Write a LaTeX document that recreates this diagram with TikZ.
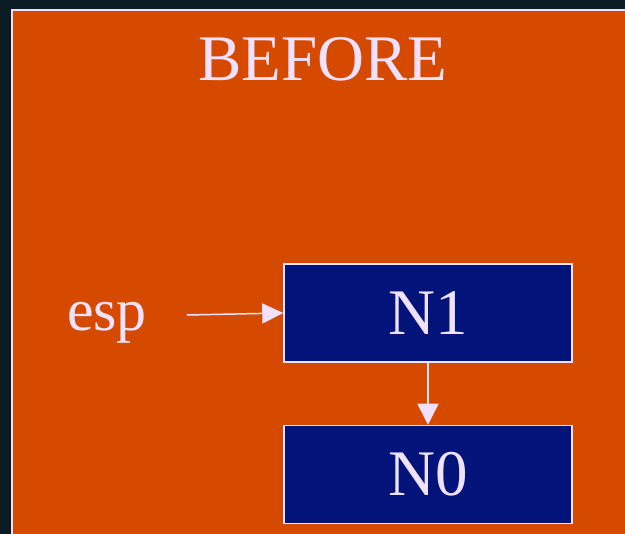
\documentclass[tikz,border=0pt]{standalone}
\usepackage{fontspec}
\setmainfont{Liberation Serif}
\usepackage{tikz}
\usetikzlibrary{positioning,arrows.meta}

\definecolor{slidebg}{HTML}{0B1B24}
\definecolor{panelorange}{HTML}{D64A00}
\definecolor{boxnavy}{HTML}{02137A}
\definecolor{chalk}{HTML}{F0E2FF}

\begin{document}
\begin{tikzpicture}[x=1pt, y=-1pt, node distance=62pt,
    every node/.style={font=\fontsize{65}{72}\selectfont, text=chalk},
    stackbox/.style={draw=chalk, line width=1.5pt, fill=boxnavy, minimum width=288pt, minimum height=98pt, inner sep=0pt},
    link/.style={draw=chalk, line width=1.5pt}]
  % slide background and panel
  \fill[slidebg] (0,0) rectangle (625,534);
  \useasboundingbox (0,0) rectangle (625,534);
  \fill[panelorange, draw=chalk, line width=2pt] (12,10) rectangle (640,550);
  \node[anchor=base] (title) at (323,81) {BEFORE};
  \node[stackbox] (n1) at (428,313) {N1};
  \node[stackbox, below=62pt of n1] (n0) {N0};
  \node[anchor=base, font=\fontsize{60}{66}\selectfont] (esp) at (107,331) {esp};
  \coordinate (esptail) at (187,315);
  \draw[link, -{Triangle[length=21pt, width=20pt]}] (esptail) -- (n1.west);
  \draw[link, -{Triangle[length=21pt, width=21pt]}] (n1) -- (n0);
\end{tikzpicture}
\end{document}
